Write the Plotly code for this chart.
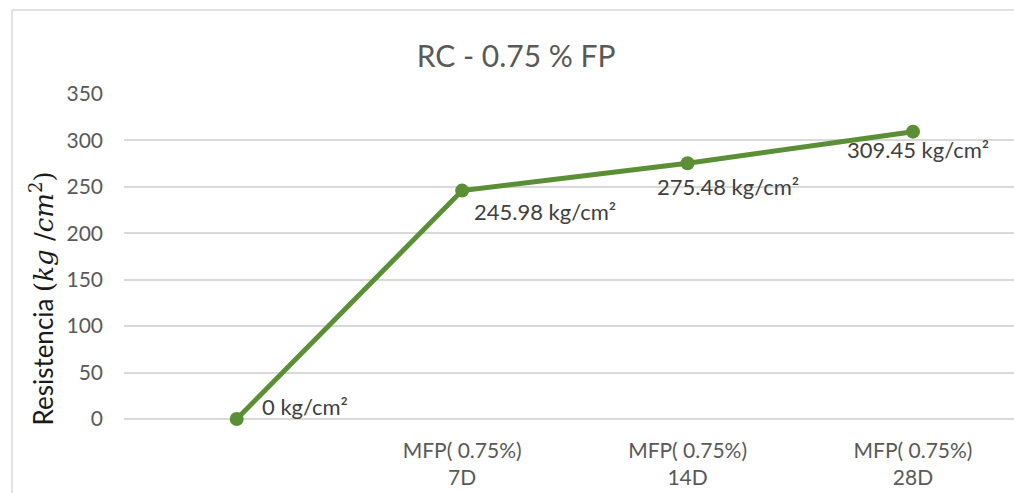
import plotly.graph_objects as go

# Compressive strength of RC with 0.75 % fibre, by curing age
categories = ["", "MFP( 0.75%)<br>7D", "MFP( 0.75%)<br>14D", "MFP( 0.75%)<br>28D"]
strength = [0, 245.98, 275.48, 309.45]
y_ticks = [0, 50, 100, 150, 200, 250, 300, 350]

# label offsets (pixels) relative to each point: (xanchor, xshift, yshift)
label_offsets = [("left", 23, 13), ("left", 10, -21), ("center", 40, -23), ("center", 5, -18)]

GREEN = "#5b8f35"
GRID = "#d9d9d9"
TICK = "#595959"

x_pos = list(range(len(categories)))

fig = go.Figure()
fig.add_trace(go.Scatter(
    x=x_pos, y=strength,
    mode="lines+markers",
    line=dict(color=GREEN, width=5),
    marker=dict(color=GREEN, size=14),
    cliponaxis=False,
    hoverinfo="skip",
    showlegend=False,
))

for xi, v, (anchor, dx, dy) in zip(x_pos, strength, label_offsets):
    fig.add_annotation(
        x=xi, y=v, xref="x", yref="y",
        text=f"{v:g} kg/cm²",
        showarrow=False,
        xanchor=anchor, yanchor="middle",
        xshift=dx, yshift=dy,
        font=dict(family="Lato", size=22, color="#404040"),
    )

# rotated y-axis title with italic units
fig.add_annotation(
    x=-0.092, y=0.371, xref="paper", yref="paper",
    text=("Resistencia "
          "<span style='font-family:DejaVu Serif'>(<i>kg</i> /<i>cm</i><sup>2</sup>)</span>"),
    textangle=-90,
    showarrow=False,
    xanchor="center", yanchor="middle",
    font=dict(family="Lato", size=26, color="#1a1a1a"),
)

# chart-area frame
frame = dict(color=GRID, width=1.5)
fig.add_shape(type="line", xref="paper", yref="paper",
              x0=-0.1258, x1=-0.1258, y0=-0.23, y1=1.2585, line=frame)
fig.add_shape(type="line", xref="paper", yref="paper",
              x0=-0.1258, x1=1.01, y0=1.2585, y1=1.2585, line=frame)

fig.update_layout(
    width=1014, height=493,
    margin=dict(l=124, r=0, t=94, b=74),
    paper_bgcolor="white",
    plot_bgcolor="white",
    title=dict(
        text="RC - 0.75 % FP",
        x=0.509, xref="container", xanchor="center",
        y=1 - 56 / 493, yref="container", yanchor="middle",
        font=dict(family="Lato", size=30, color=TICK),
    ),
    xaxis=dict(
        range=[-0.5, 3.448],
        tickmode="array", tickvals=x_pos, ticktext=categories,
        showgrid=False, zeroline=False, showline=False,
        ticks="", ticklabelstandoff=17,
        tickfont=dict(family="Lato", size=21, color=TICK),
    ),
    yaxis=dict(
        range=[0, 350],
        tickmode="array", tickvals=y_ticks,
        showgrid=True, gridcolor=GRID, gridwidth=1.5,
        zeroline=True, zerolinecolor=GRID, zerolinewidth=1.5,
        showline=False, ticks="", ticklabelstandoff=20,
        tickfont=dict(family="Lato", size=21, color=TICK),
    ),
)

fig.write_html("out.html")
